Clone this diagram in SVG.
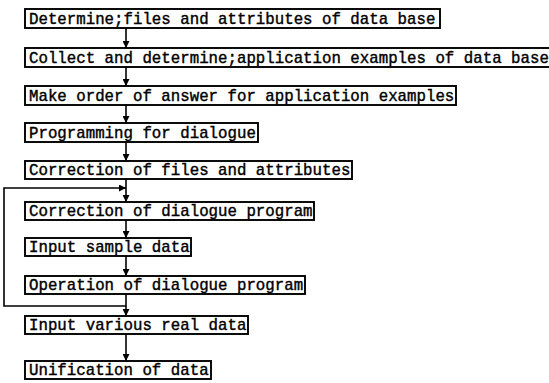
<svg xmlns="http://www.w3.org/2000/svg" width="549" height="383" viewBox="0 0 549 383">
  <style>
    .box { fill: #ffffff; stroke: #000000; stroke-width: 1.9; }
    .lbl { font-family: "Liberation Mono", "Courier New", monospace; font-size: 15.75px; fill: #000000; stroke: #000000; stroke-width: 0.4; }
    .wire { fill: none; stroke: #000000; stroke-width: 1.6; }
  </style>
  <defs>
    <marker id="head" viewBox="0 0 8 8" refX="8" refY="4" markerWidth="7" markerHeight="7" markerUnits="userSpaceOnUse" orient="auto">
      <path d="M0,0 L8,4 L0,8 Z" fill="#000000"/>
    </marker>
  </defs>
  <rect width="549" height="383" fill="#ffffff"/>

  <!-- connectors -->
  <g id="connectors">
    <line class="wire" x1="126" y1="28" x2="126" y2="48" marker-end="url(#head)"/>
    <line class="wire" x1="126" y1="67" x2="126" y2="86" marker-end="url(#head)"/>
    <line class="wire" x1="126" y1="105" x2="126" y2="123" marker-end="url(#head)"/>
    <line class="wire" x1="126" y1="142" x2="126" y2="161" marker-end="url(#head)"/>
    <line class="wire" x1="126" y1="179" x2="126" y2="202" marker-end="url(#head)"/>
    <line class="wire" x1="126" y1="220" x2="126" y2="238" marker-end="url(#head)"/>
    <line class="wire" x1="126" y1="256" x2="126" y2="276" marker-end="url(#head)"/>
    <line class="wire" x1="126" y1="294" x2="126" y2="316" marker-end="url(#head)"/>
    <line class="wire" x1="126" y1="334" x2="126" y2="361" marker-end="url(#head)"/>
    <!-- feedback loop back to the dialogue program correction -->
    <polyline class="wire" points="126,306 4,306 4,188 126,188" marker-end="url(#head)"/>
  </g>

  <g id="n1">
    <rect class="box" x="25" y="9" width="415" height="19"/>
    <text class="lbl" x="29" y="23.5">Determine;files and attributes of data base</text>
  </g>
  <g id="n2">
    <rect class="box" x="25" y="48" width="530" height="19"/>
    <text class="lbl" x="29" y="62.5">Collect and determine;application examples of data base</text>
  </g>
  <g id="n3">
    <rect class="box" x="25" y="86" width="431" height="19"/>
    <text class="lbl" x="29" y="100.5">Make order of answer for application examples</text>
  </g>
  <g id="n4">
    <rect class="box" x="25" y="123" width="233" height="19"/>
    <text class="lbl" x="29" y="137.5">Programming for dialogue</text>
  </g>
  <g id="n5">
    <rect class="box" x="25" y="161" width="327" height="18"/>
    <text class="lbl" x="29" y="175">Correction of files and attributes</text>
  </g>
  <g id="n6">
    <rect class="box" x="25" y="202" width="289" height="18"/>
    <text class="lbl" x="29" y="216">Correction of dialogue program</text>
  </g>
  <g id="n7">
    <rect class="box" x="25" y="238" width="166" height="18"/>
    <text class="lbl" x="29" y="252">Input sample data</text>
  </g>
  <g id="n8">
    <rect class="box" x="25" y="276" width="280" height="18"/>
    <text class="lbl" x="29" y="290">Operation of dialogue program</text>
  </g>
  <g id="n9">
    <rect class="box" x="25" y="316" width="223" height="18"/>
    <text class="lbl" x="29" y="330">Input various real data</text>
  </g>
  <g id="n10">
    <rect class="box" x="25" y="361" width="186" height="18"/>
    <text class="lbl" x="29" y="375">Unification of data</text>
  </g>
</svg>
